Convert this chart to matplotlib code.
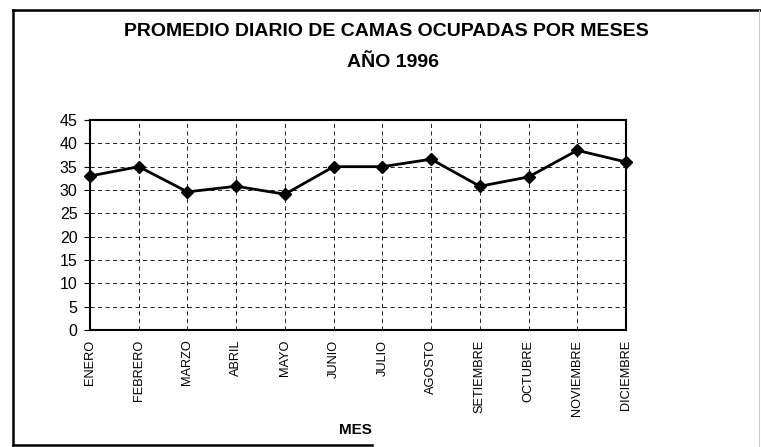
import matplotlib
matplotlib.use("Agg")
import matplotlib.pyplot as plt
from matplotlib.lines import Line2D

###
### Data
###
meses = ["ENERO", "FEBRERO", "MARZO", "ABRIL", "MAYO", "JUNIO", "JULIO",
         "AGOSTO", "SETIEMBRE", "OCTUBRE", "NOVIEMBRE", "DICIEMBRE"]
camas = [33.0, 35.0, 29.6, 30.8, 29.1, 35.0, 35.0, 36.6, 30.8, 32.8, 38.5, 36.0]
yticks = [0, 5, 10, 15, 20, 25, 30, 35, 40, 45]

plt.rcParams['font.family'] = ['Liberation Sans', 'DejaVu Sans']

W, H = 761, 447
fig = plt.figure(figsize=(W/100, H/100), dpi=100)
ax = fig.add_axes([90/W, 1 - 330/H, (626 - 90)/W, (330 - 120)/H])

###
### Line
###
x = list(range(len(meses)))
ax.plot(x, camas, color='black', linewidth=2, marker='D', markersize=6,
        clip_on=False, zorder=3)

###
### Axes
###
ax.set_xlim(0, len(meses) - 1)
ax.set_ylim(0, 45)
ax.set_yticks(yticks)
ax.set_xticks(x)
ax.set_xticklabels(meses, rotation=90, fontsize=9.2)
ax.tick_params(axis='y', labelsize=11.5, length=4, direction='out', pad=5)
ax.tick_params(axis='x', length=0, pad=7)
ax.grid(True, linestyle=(0, (5, 4)), color='black', linewidth=0.6)
for s in ax.spines.values():
    s.set_linewidth(1.5)

###
### Titles
###
fig.text(386/W, 1 - 31.5/H, "PROMEDIO DIARIO DE CAMAS OCUPADAS POR MESES",
         ha='center', va='center', fontsize=14, fontweight='bold')
fig.text(393/W, 1 - 62.5/H, "AÑO 1996",
         ha='center', va='center', fontsize=14, fontweight='bold')
fig.text(355/W, 1 - 430/H, "MES",
         ha='center', va='center', fontsize=11, fontweight='bold')

###
### Frame (scanned border)
###
def fline(x0, y0, x1, y1, **kw):
    fig.add_artist(Line2D([x0/W, x1/W], [1 - y0/H, 1 - y1/H],
                          transform=fig.transFigure, **kw))

fline(13, 10, 761, 10, color='black', linewidth=1.8)
fline(13, 10, 13, 445, color='black', linewidth=1.8)
fline(13, 445, 372, 445, color='black', linewidth=1.8)
fline(759, 10, 759, 447, color='#cccccc', linewidth=0.8)

fig.savefig("out.png", dpi=100)
